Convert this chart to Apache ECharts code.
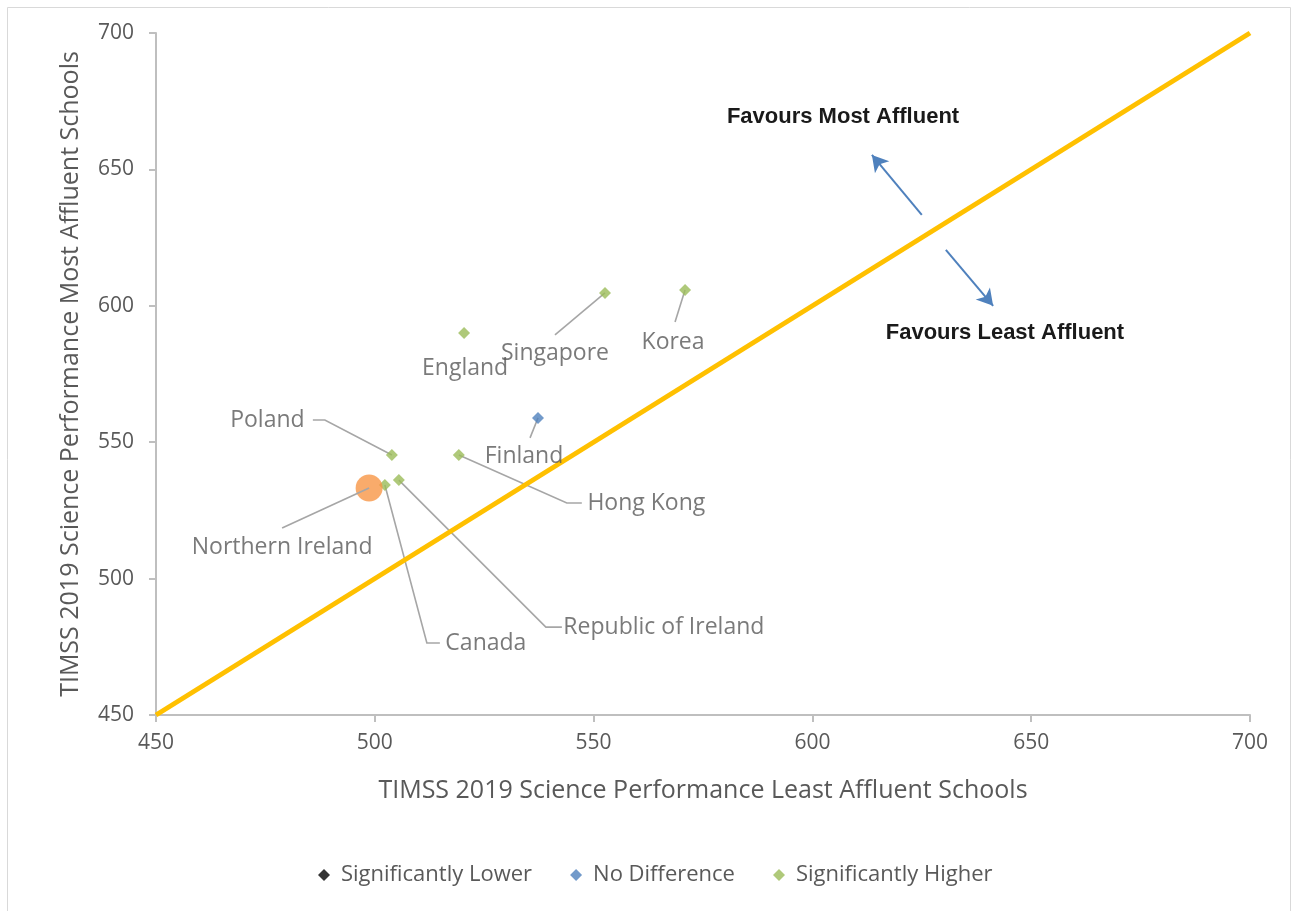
<!DOCTYPE html>
<html>
<head>
<meta charset="utf-8">
<script src="https://cdn.jsdelivr.net/npm/echarts@6/dist/echarts.min.js"></script>
<style>
html,body{margin:0;padding:0;background:#fff;}
#c{width:1292px;height:911px;}
</style>
</head>
<body>
<div id="c"></div>
<script>
// ---- data ----
const higherNames = ['England','Singapore','Korea','Poland','Hong Kong','Republic of Ireland','Canada'];
const higherLeast = [520.4, 552.6, 570.9, 503.9, 519.2, 505.5, 502.3];
const higherMost  = [590.0, 604.7, 605.8, 545.3, 545.3, 536.1, 534.3];
const noDiffNames = ['Finland'];
const noDiffLeast = [537.3];
const noDiffMost  = [558.9];
const lowerNames = [];
const lowerLeast = [];
const lowerMost  = [];
const niName = 'Northern Ireland';
const niLeast = [498.7];
const niMost  = [533.2];
const axisTicks = [450, 500, 550, 600, 650, 700];
const parityLine = [[450,450],[700,700]];
const arrowUp   = [[625.0,633.3],[613.6,655.3]];
const arrowDown = [[630.5,620.5],[641.3,600.0]];
const noteMost  = {text:'Favours Most Affluent',  at:[607,669.2]};
const noteLeast = {text:'Favours Least Affluent', at:[644,590]};
const legendNames = ['Significantly Lower','No Difference','Significantly Higher'];

// ---- label layout (pixel offsets from the point, layout only) ----
const labelOffsets = {
  'England':[1,35], 'Singapore':[-50,60], 'Korea':[-12,52], 'Finland':[-14,39],
  'Poland':[-124.5,-35], 'Hong Kong':[187.5,48], 'Republic of Ireland':[265,147],
  'Canada':[101,158], 'Northern Ireland':[-87,59]
};
// leader anchor relative to label centre; optional horizontal elbow end
const leaderAnchor = {
  'Singapore':{a:[0,-18]}, 'Korea':{a:[2,-20]}, 'Finland':{a:[6,-19]},
  'Poland':{a:[45.5,0], e:[57.5,0]}, 'Hong Kong':{a:[-64.5,0], e:[-79.5,0]},
  'Republic of Ireland':{a:[-102,0], e:[-118,0]}, 'Canada':{a:[-46,0], e:[-59,0]},
  'Northern Ireland':{a:[0,-19], above:true}
};

const FONT = 'Open Sans';
const GRAY = '#595959';

function pts(names, xs, ys){ return names.map((n,i)=>({name:n, value:[xs[i], ys[i]]})); }
function layoutFn(names){
  return function(p){
    const o = labelOffsets[names[p.dataIndex]] || [0,0];
    return {dx:o[0], dy:o[1]};
  };
}
const labelCommon = {show:true, position:'inside', formatter:'{b}', color:GRAY, fontFamily:FONT, fontSize:23};
const border = {id:'border', type:'rect', z:-1, shape:{x:7.5,y:7.5,width:1283,height:912}, style:{fill:'none', stroke:'#D9D9D9', lineWidth:1}};

const chart = echarts.init(document.getElementById('c'), null, {renderer:'canvas'});
chart.setOption({
  backgroundColor:'#fff',
  animation:false,
  graphic:[border],
  grid:{left:156, right:42, top:33, bottom:196, containLabel:false},
  legend:{
    data:legendNames, top:859, left:313, itemGap:38, itemWidth:12, itemHeight:12,
    icon:'diamond',
    textStyle:{color:GRAY, fontFamily:FONT, fontSize:22, padding:[0,0,0,6]}
  },
  xAxis:{
    type:'value', min:450, max:700, interval:50,
    name:'TIMSS 2019 Science Performance Least Affluent Schools',
    nameLocation:'middle', nameGap:63,
    nameTextStyle:{color:GRAY, fontFamily:FONT, fontSize:25},
    axisLine:{show:true, lineStyle:{color:'#BFBFBF', width:2}},
    axisTick:{show:true, inside:false, length:7, lineStyle:{color:'#BFBFBF', width:2}},
    axisLabel:{color:GRAY, fontFamily:FONT, fontSize:21, margin:18},
    splitLine:{show:false}
  },
  yAxis:{
    type:'value', min:450, max:700, interval:50,
    name:'TIMSS 2019 Science Performance Most Affluent Schools',
    nameLocation:'middle', nameGap:73,
    nameTextStyle:{color:GRAY, fontFamily:FONT, fontSize:25},
    axisLine:{show:true, lineStyle:{color:'#BFBFBF', width:2}},
    axisTick:{show:true, inside:false, length:7, lineStyle:{color:'#BFBFBF', width:2}},
    axisLabel:{color:GRAY, fontFamily:FONT, fontSize:21, margin:22},
    splitLine:{show:false}
  },
  series:[
    {
      name:'parity', type:'line', data:parityLine, symbol:'none', z:1, silent:true,
      lineStyle:{color:'#FFC000', width:5},
      markLine:{
        silent:true, symbol:['none','arrow'], symbolSize:[14,16],
        label:{show:false},
        lineStyle:{color:'#4F81BD', width:2, type:'solid'},
        data:[
          [{coord:arrowUp[0]},{coord:arrowUp[1]}],
          [{coord:arrowDown[0]},{coord:arrowDown[1]}]
        ]
      },
      markPoint:{
        silent:true, symbol:'circle', symbolSize:0,
        label:{show:true, position:'inside', color:'#1a1a1a', fontFamily:'Liberation Sans', fontWeight:'bold', fontSize:22, formatter:'{b}'},
        data:[
          {name:noteMost.text, coord:noteMost.at},
          {name:noteLeast.text, coord:noteLeast.at}
        ]
      }
    },
    {
      name:legendNames[0], type:'scatter', symbol:'diamond', symbolSize:12,
      itemStyle:{color:'#000'}, data:pts(lowerNames, lowerLeast, lowerMost), z:3
    },
    {
      name:legendNames[1], type:'scatter', symbol:'diamond', symbolSize:12,
      itemStyle:{color:'#4F81BD'}, data:pts(noDiffNames, noDiffLeast, noDiffMost), z:3,
      label:labelCommon, labelLayout:layoutFn(noDiffNames)
    },
    {
      name:legendNames[2], type:'scatter', symbol:'diamond', symbolSize:12,
      itemStyle:{color:'#9BBB59'}, z:3,
      data:pts(higherNames, higherLeast, higherMost),
      label:labelCommon, labelLayout:layoutFn(higherNames)
    },
    {
      name:niName, type:'scatter', symbol:'circle', symbolSize:27,
      itemStyle:{color:'#F79646'}, z:4,
      data:pts([niName], niLeast, niMost),
      label:labelCommon, labelLayout:layoutFn([niName])
    }
  ]
});

// leader lines: from each data point (via the grid's scales) to its label anchor
const allPts = [].concat(
  pts(higherNames, higherLeast, higherMost),
  pts(noDiffNames, noDiffLeast, noDiffMost),
  pts([niName], niLeast, niMost)
);
const leaders = [];
allPts.forEach(d=>{
  const spec = leaderAnchor[d.name];
  if (!spec) return;
  const p = chart.convertToPixel({gridIndex:0}, d.value);
  const o = labelOffsets[d.name];
  const c = [p[0]+o[0], p[1]+o[1]];
  const points = [[c[0]+spec.a[0], c[1]+spec.a[1]]];
  if (spec.e) points.push([c[0]+spec.e[0], c[1]+spec.e[1]]);
  points.push(p);
  leaders.push({
    type:'polyline', z: spec.above ? 100 : 0, silent:true,
    shape:{points:points},
    style:{stroke:'#A6A6A6', lineWidth:1.6, fill:null}
  });
});
chart.setOption({graphic:[border].concat(leaders)}, {replaceMerge:['graphic']});
</script>
</body>
</html>
